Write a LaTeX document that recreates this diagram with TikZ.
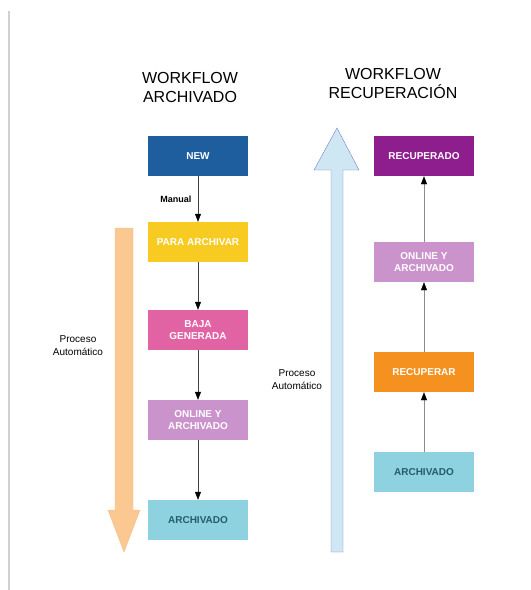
\documentclass[tikz,border=0pt]{standalone}
\usepackage{fontspec}
\setmainfont{Liberation Sans}
\usetikzlibrary{arrows.meta}
\definecolor{azulnew}{HTML}{1F5E9E}
\definecolor{amarillo}{HTML}{F7CB22}
\definecolor{rosa}{HTML}{E263A3}
\definecolor{lila}{HTML}{CB93CB}
\definecolor{celeste}{HTML}{8DD2DE}
\definecolor{morado}{HTML}{8E1E8E}
\definecolor{naranja}{HTML}{F5911F}
\definecolor{melocoton}{HTML}{FCC891}
\definecolor{azulflecha}{HTML}{CFE7F3}
\definecolor{textoarch}{HTML}{245C6E}

\begin{document}
\begin{tikzpicture}[x=1pt,y=-1pt,
    estado/.style={minimum width=100pt,minimum height=40pt,inner sep=2pt,align=center,
      font=\fontsize{10}{12.5}\selectfont\bfseries,text=white},
    titulo/.style={align=center,font=\fontsize{16}{19}\selectfont},
    paso/.style={draw=black!75,-{Triangle[width=6pt,length=8pt,black]}},
    pasogris/.style={draw=black!45,-{Triangle[width=6pt,length=8pt,black]}}]
  \useasboundingbox (0,0) rectangle (531,590);
  \fill[black!18] (8,11) rectangle (10,590);

  % Titulos
  \node[titulo] (tarch) at (190,87) {WORKFLOW\\ARCHIVADO};
  \node[titulo] (trec) at (393,83) {WORKFLOW\\RECUPERACIÓN};

  % Flechas de proceso
  \draw[melocoton!85!brown,fill=melocoton] (115,228) -- (133,228) -- (133,510) -- (140,510)
    -- (124,552) -- (108,510) -- (115,510) -- cycle;
  \draw[azulflecha!70!blue!80!black,fill=azulflecha] (331,552) -- (343,552) -- (343,170) -- (359,170)
    -- (337,128) -- (314,170) -- (331,170) -- cycle;
  \node[align=center,font=\fontsize{10}{13}\selectfont] (pa1) at (78,346) {Proceso\\Automático};
  \node[align=center,font=\fontsize{10}{13}\selectfont] (pa2) at (297,380) {Proceso\\Automático};

  % Workflow archivado
  \node[estado,fill=azulnew] (new) at (198,156) {NEW};
  \node[estado,fill=amarillo] (para) at (198,242) {PARA ARCHIVAR};
  \node[estado,fill=rosa] (baja) at (198,330) {BAJA\\GENERADA};
  \node[estado,fill=lila] (onl1) at (198,420) {ONLINE Y\\ARCHIVADO};
  \node[estado,fill=celeste,text=textoarch] (arch1) at (198,520) {ARCHIVADO};
  \draw[paso] (new) -- (para) node[midway,left=3pt,font=\fontsize{9}{11}\selectfont\bfseries] {Manual};
  \draw[paso] (para) -- (baja);
  \draw[paso] (baja) -- (onl1);
  \draw[paso] (onl1) -- (arch1);

  % Workflow recuperacion
  \node[estado,fill=morado] (recup) at (424,156) {RECUPERADO};
  \node[estado,fill=lila] (onl2) at (424,262) {ONLINE Y\\ARCHIVADO};
  \node[estado,fill=naranja] (recu) at (424,372) {RECUPERAR};
  \node[estado,fill=celeste,text=textoarch] (arch2) at (424,472) {ARCHIVADO};
  \draw[pasogris] (arch2) -- (recu);
  \draw[pasogris] (recu) -- (onl2);
  \draw[pasogris] (onl2) -- (recup);
\end{tikzpicture}
\end{document}
